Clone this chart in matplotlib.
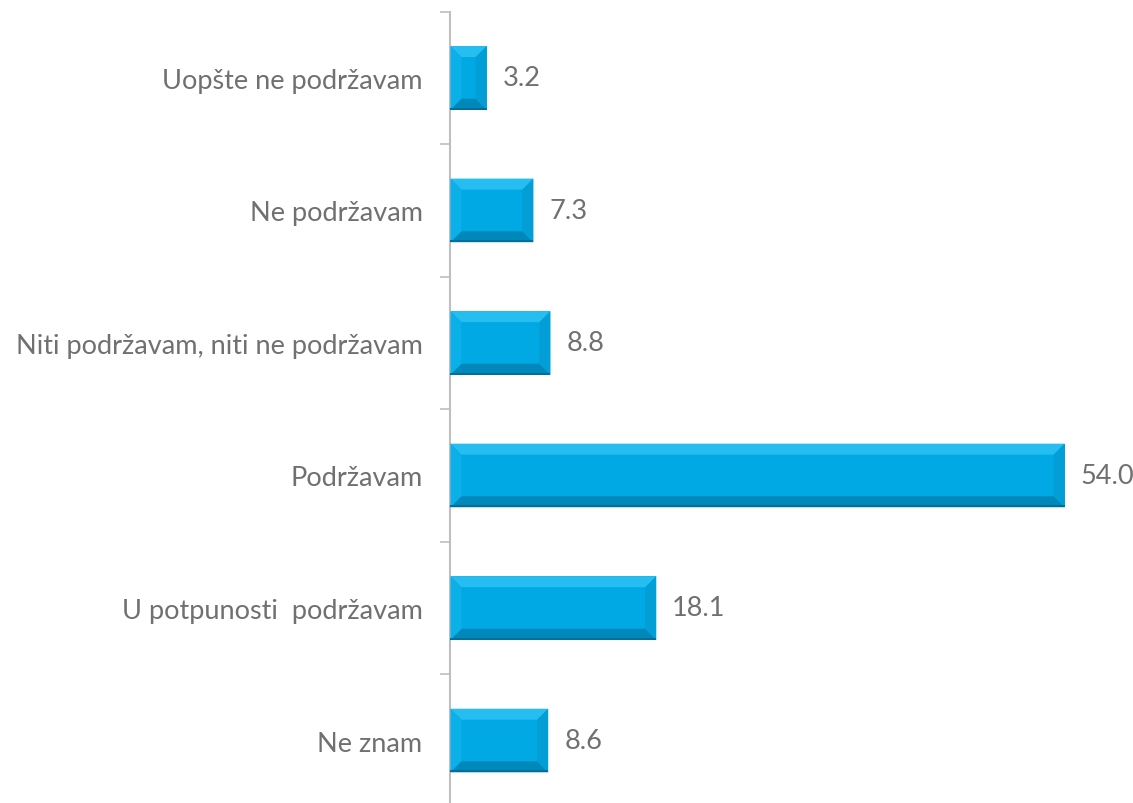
import matplotlib.pyplot as plt
import numpy as np
from matplotlib.patches import Polygon

categories = ["Uopšte ne podržavam", "Ne podržavam", "Niti podržavam, niti ne podržavam",
              "Podržavam", "U potpunosti  podržavam", "Ne znam"]
values = [3.2, 7.3, 8.8, 54.0, 18.1, 8.6]

plt.rcParams['font.family'] = ['Lato', 'DejaVu Sans']

fig = plt.figure(figsize=(11.33, 8.04), dpi=100)
ax = fig.add_axes([0.3975, -0.0047, 0.6025, 0.989])

y = np.arange(len(categories))
bars = ax.barh(y, values, height=0.48, color="#00a8e4", zorder=2)
ax.set_xlim(0, 60)
ax.set_ylim(len(categories) - 0.5, -0.5)

ax.set_yticks(y)
ax.set_yticklabels(categories, fontsize=19.5, color="#707070")
ax.set_yticks(np.arange(len(categories) + 1) - 0.5, minor=True)
ax.tick_params(axis="y", which="major", length=0, pad=20)
ax.tick_params(axis="y", which="minor", length=7, color="#bfbfbf", width=1.2)
ax.set_xticks([])
for s in ["top", "right", "bottom"]:
    ax.spines[s].set_visible(False)
ax.spines["left"].set_color("#bfbfbf")
ax.spines["left"].set_linewidth(1.5)

# bevel effect, depth in pixels
d = 11
inv = ax.transData.inverted()
for b in bars:
    x0, y0 = b.get_x(), b.get_y()
    x1, y1 = x0 + b.get_width(), y0 + b.get_height()
    (px0, py0), (px1, py1) = ax.transData.transform([(x0, y0), (x1, y1)])
    top, bot = max(py0, py1), min(py0, py1)
    dx = min(d, (px1 - px0) / 2)
    faces = {
        "#26bef1": [(px0, top), (px1, top), (px1 - dx, top - d), (px0 + dx, top - d)],
        "#0088ba": [(px0, bot), (px1, bot), (px1 - dx, bot + d), (px0 + dx, bot + d)],
        "#0cb0e9": [(px0, top), (px0 + dx, top - d), (px0 + dx, bot + d), (px0, bot)],
        "#039ed6": [(px1, top), (px1 - dx, top - d), (px1 - dx, bot + d), (px1, bot)],
    }
    for col, pts in faces.items():
        ax.add_patch(Polygon(inv.transform(pts), closed=True, color=col, lw=0, zorder=3))
    # thin dark line along the bottom edge
    ax.add_patch(Polygon(inv.transform([(px0, bot), (px1, bot), (px1, bot + 2), (px0, bot + 2)]),
                         closed=True, color="#006f99", lw=0, zorder=4))
    ax.text(x1 + 1.4, y0 + b.get_height() / 2, f"{b.get_width():.1f}", va="center",
            ha="left", fontsize=19.5, color="#707070")

fig.savefig("out.png", dpi=100)
